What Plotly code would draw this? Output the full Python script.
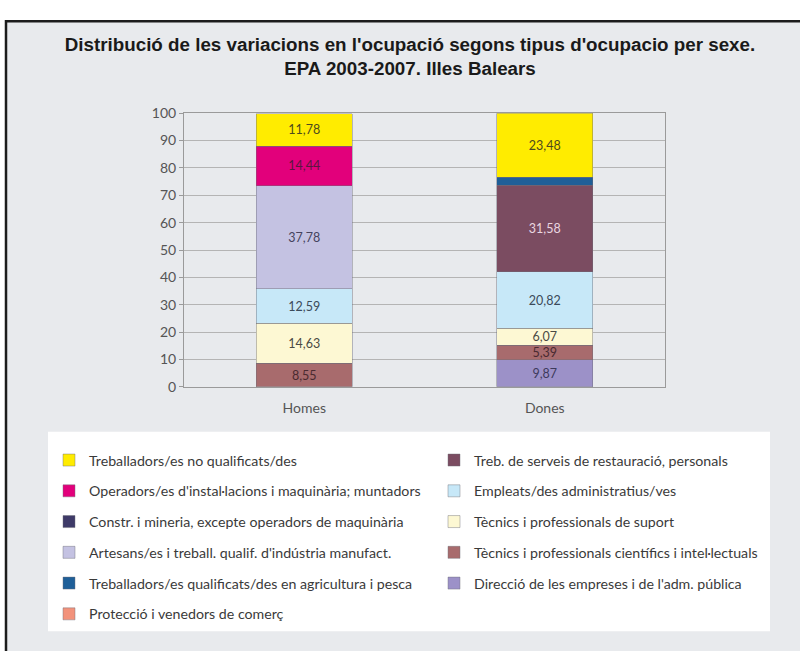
import plotly.graph_objects as go

# Categories on the x axis
sexes = ["Homes", "Dones"]

# Series, listed bottom-to-top in the stack; values are (Homes, Dones)
direccio = [None, 9.87]
cientifics = [8.55, 5.39]
suport = [14.63, 6.07]
empleats = [12.59, 20.82]
serveis = [None, 31.58]
artesans = [37.78, None]
constr = [None, None]
operadors = [14.44, None]
agricultura = [None, 2.79]
proteccio = [None, None]
no_qualificats = [11.78, 23.48]

y_ticks = [0, 10, 20, 30, 40, 50, 60, 70, 80, 90, 100]

# name, values, fill colour, label colour, legend, rank in legend
series = [
    ("Direcció de les empreses i de l'adm. pública", direccio, "#9c91c8", "#3d3a5c", "legend2", 5),
    ("Tècnics i professionals científics i intel·lectuals", cientifics, "#a86b6d", "#4a2a30", "legend2", 4),
    ("Tècnics i professionals de suport", suport, "#fdf8d3", "#4a4a44", "legend2", 3),
    ("Empleats/des administratius/ves", empleats, "#c7e8f8", "#3b4a5a", "legend2", 2),
    ("Treb. de serveis de restauració, personals", serveis, "#7b4c61", "#ead6e0", "legend2", 1),
    ("Artesans/es i treball. qualif. d'indústria manufact.", artesans, "#c4c2e2", "#45435e", "legend", 4),
    ("Constr. i mineria, excepte operadors de maquinària", constr, "#3e3a68", "#ffffff", "legend", 3),
    ("Operadors/es d'instal·lacions i maquinària; muntadors", operadors, "#e2007b", "#5a1740", "legend", 2),
    ("Treballadors/es qualificats/des en agricultura i pesca", agricultura, "#1f5f98", "#ffffff", "legend", 5),
    ("Protecció i venedors de comerç", proteccio, "#f2927b", "#4a2a20", "legend", 6),
    ("Treballadors/es no qualificats/des", no_qualificats, "#ffec00", "#4d4a1e", "legend", 1),
]

MIN_LABELLED = 4  # thinner segments carry no value label

W, H = 800, 651


def px(x):
    return x / W


def py(y):
    return 1 - y / H


fig = go.Figure()
for name, vals, color, txtcol, leg, rank in series:
    labels = [
        (f"{v:.2f}".replace(".", ",") if (v is not None and v >= MIN_LABELLED) else "")
        for v in vals
    ]
    fig.add_trace(go.Bar(
        x=sexes, y=vals, name=name,
        marker=dict(color=color, line=dict(color="rgba(110,110,120,0.55)", width=0.8)),
        text=labels, textposition="inside", insidetextanchor="middle",
        textangle=0, textfont=dict(family="Lato", size=12.5, color=txtcol),
        legend=leg, legendrank=rank, legendgroup=name,
        hoverinfo="skip",
    ))

legend_style = dict(
    orientation="v", traceorder="grouped", tracegroupgap=9.3,
    bgcolor="rgba(0,0,0,0)", borderwidth=0, itemwidth=30,
    font=dict(family="Lato", size=14.2, color="#3a3a3a"),
    xanchor="left", yanchor="top", itemclick=False, itemdoubleclick=False,
)

fig.update_layout(
    width=W, height=H,
    margin=dict(l=0, r=0, t=0, b=0),
    paper_bgcolor="#ffffff",
    plot_bgcolor="#ffffff",
    barmode="stack",
    bargap=0.6,
    showlegend=True,
    uniformtext=dict(minsize=12.5, mode="show"),
    title=dict(
        text="Distribució de les variacions en l'ocupació segons tipus d'ocupacio per sexe.<br>EPA 2003-2007. Illes Balears",
        font=dict(family="Liberation Sans", size=18.8, color="#1a1a1a", weight="bold"),
        x=px(410), xanchor="center", y=py(51), yanchor="top",
    ),
    xaxis=dict(
        domain=[px(184), px(665)],
        showline=True, linecolor="#9a9a9a", linewidth=1, mirror=True,
        ticks="", ticklabelstandoff=8,
        tickfont=dict(family="Lato", size=14, color="#555555"),
        showgrid=False,
    ),
    yaxis=dict(
        domain=[py(388), py(107)],
        range=[0, 100], tickvals=y_ticks,
        showline=True, linecolor="#9a9a9a", linewidth=1, mirror=True,
        ticks="outside", ticklen=4, tickcolor="#9a9a9a",
        tickfont=dict(family="Lato", size=14, color="#555555"),
        showgrid=True, gridcolor="#b4b4b4", gridwidth=1,
        zeroline=False,
    ),
    legend=dict(x=px(49), y=py(447), **legend_style),
    legend2=dict(x=px(434), y=py(447), **legend_style),
    shapes=[
        # outer framed panel
        dict(type="rect", xref="paper", yref="paper",
             x0=px(6), x1=1.02, y0=-0.02, y1=py(12.5),
             fillcolor="#e8eaed", line=dict(color="#1c1c1c", width=2.5), layer="below"),
        # white legend box
        dict(type="rect", xref="paper", yref="paper",
             x0=px(48), x1=px(770), y0=py(639), y1=py(434),
             fillcolor="#ffffff", line=dict(width=0), layer="below"),
    ],
)

fig.write_html("out.html")
